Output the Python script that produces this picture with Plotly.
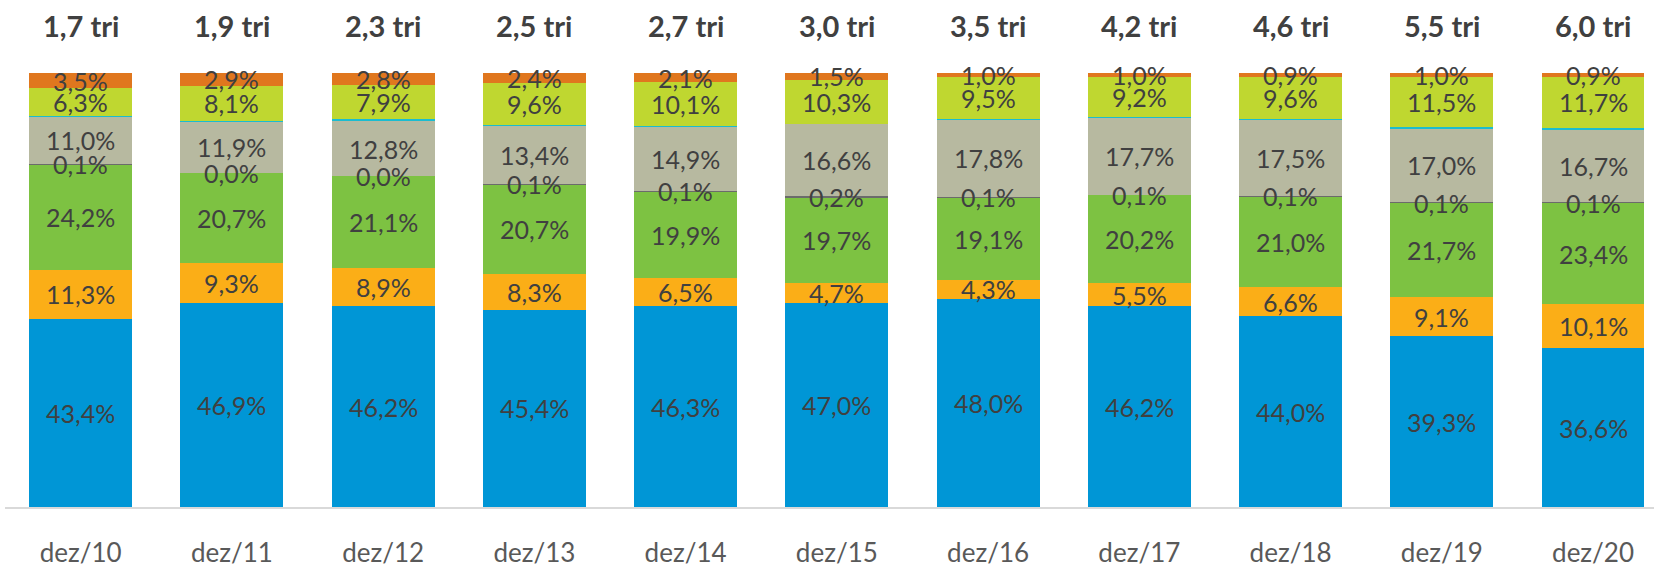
"""Composição percentual por ano (barras empilhadas 100%) com total em tri."""

import plotly.graph_objects as go

CATEGORIAS = ["dez/10", "dez/11", "dez/12", "dez/13", "dez/14", "dez/15",
              "dez/16", "dez/17", "dez/18", "dez/19", "dez/20"]
TOTAL_TRI = [1.7, 1.9, 2.3, 2.5, 2.7, 3.0, 3.5, 4.2, 4.6, 5.5, 6.0]

# séries de baixo para cima (valores em %)
AZUL = [43.4, 46.9, 46.2, 45.4, 46.3, 47.0, 48.0, 46.2, 44.0, 39.3, 36.6]
AMARELO = [11.3, 9.3, 8.9, 8.3, 6.5, 4.7, 4.3, 5.5, 6.6, 9.1, 10.1]
VERDE = [24.2, 20.7, 21.1, 20.7, 19.9, 19.7, 19.1, 20.2, 21.0, 21.7, 23.4]
CINZA_ESCURO = [0.1, 0.0, 0.0, 0.1, 0.1, 0.2, 0.1, 0.1, 0.1, 0.1, 0.1]
BEGE = [11.0, 11.9, 12.8, 13.4, 14.9, 16.6, 17.8, 17.7, 17.5, 17.0, 16.7]
CIANO = [0.2, 0.2, 0.3, 0.1, 0.1, 0.0, 0.2, 0.1, 0.3, 0.3, 0.5]  # sem rótulo
LIMA = [6.3, 8.1, 7.9, 9.6, 10.1, 10.3, 9.5, 9.2, 9.6, 11.5, 11.7]
LARANJA = [3.5, 2.9, 2.8, 2.4, 2.1, 1.5, 1.0, 1.0, 0.9, 1.0, 0.9]

SERIES = [
    ("azul", AZUL, "#0096d6", True),
    ("amarelo", AMARELO, "#fbae17", True),
    ("verde", VERDE, "#7dc242", True),
    ("cinza", CINZA_ESCURO, "#6b6b6b", True),
    ("bege", BEGE, "#b7b9a0", True),
    ("ciano", CIANO, "#1bbcd0", False),
    ("lima", LIMA, "#bfd730", True),
    ("laranja", LARANJA, "#e0771e", True),
]

FONTE = "Lato, 'Open Sans', sans-serif"


def pct(v: float) -> str:
    return f"{v:.1f}".replace(".", ",") + "%"


x = list(range(len(CATEGORIAS)))
fig = go.Figure()
base = [0.0] * len(x)
anotacoes = []
for nome, valores, cor, rotulo in SERIES:
    fig.add_trace(go.Bar(
        x=x, y=valores, name=nome, marker=dict(color=cor, line=dict(width=0)),
        width=0.68, hoverinfo="skip",
    ))
    if rotulo:
        for i, v in enumerate(valores):
            anotacoes.append(dict(
                x=i, y=base[i] + v / 2, xref="x", yref="y", text=pct(v),
                showarrow=False, font=dict(family=FONTE, size=25, color="#404040"),
            ))
    base = [b + v for b, v in zip(base, valores)]

for i, t in enumerate(TOTAL_TRI):
    anotacoes.append(dict(
        x=i, y=1.11, xref="x", yref="paper", yanchor="middle",
        text=f"<b>{t:.1f}".replace(".", ",") + " tri</b>",
        showarrow=False, font=dict(family=FONTE, size=29, color="#404040"),
    ))

fig.update_layout(
    width=1654, height=568, barmode="stack", showlegend=False,
    margin=dict(l=5, r=0, t=73, b=58),
    paper_bgcolor="white", plot_bgcolor="white",
    annotations=anotacoes,
)
fig.update_xaxes(
    range=[-0.5, 10.403], tickvals=x, ticktext=CATEGORIAS,
    showline=True, linecolor="#d9d9d9", linewidth=2, showgrid=False, zeroline=False,
    ticks="", ticklabelstandoff=22,
    tickfont=dict(family=FONTE, size=26, color="#595959"),
)
fig.update_yaxes(range=[0, 100], visible=False)

fig.write_html("out.html", config={"displayModeBar": False},
               post_script="document.body.style.margin='0';")
